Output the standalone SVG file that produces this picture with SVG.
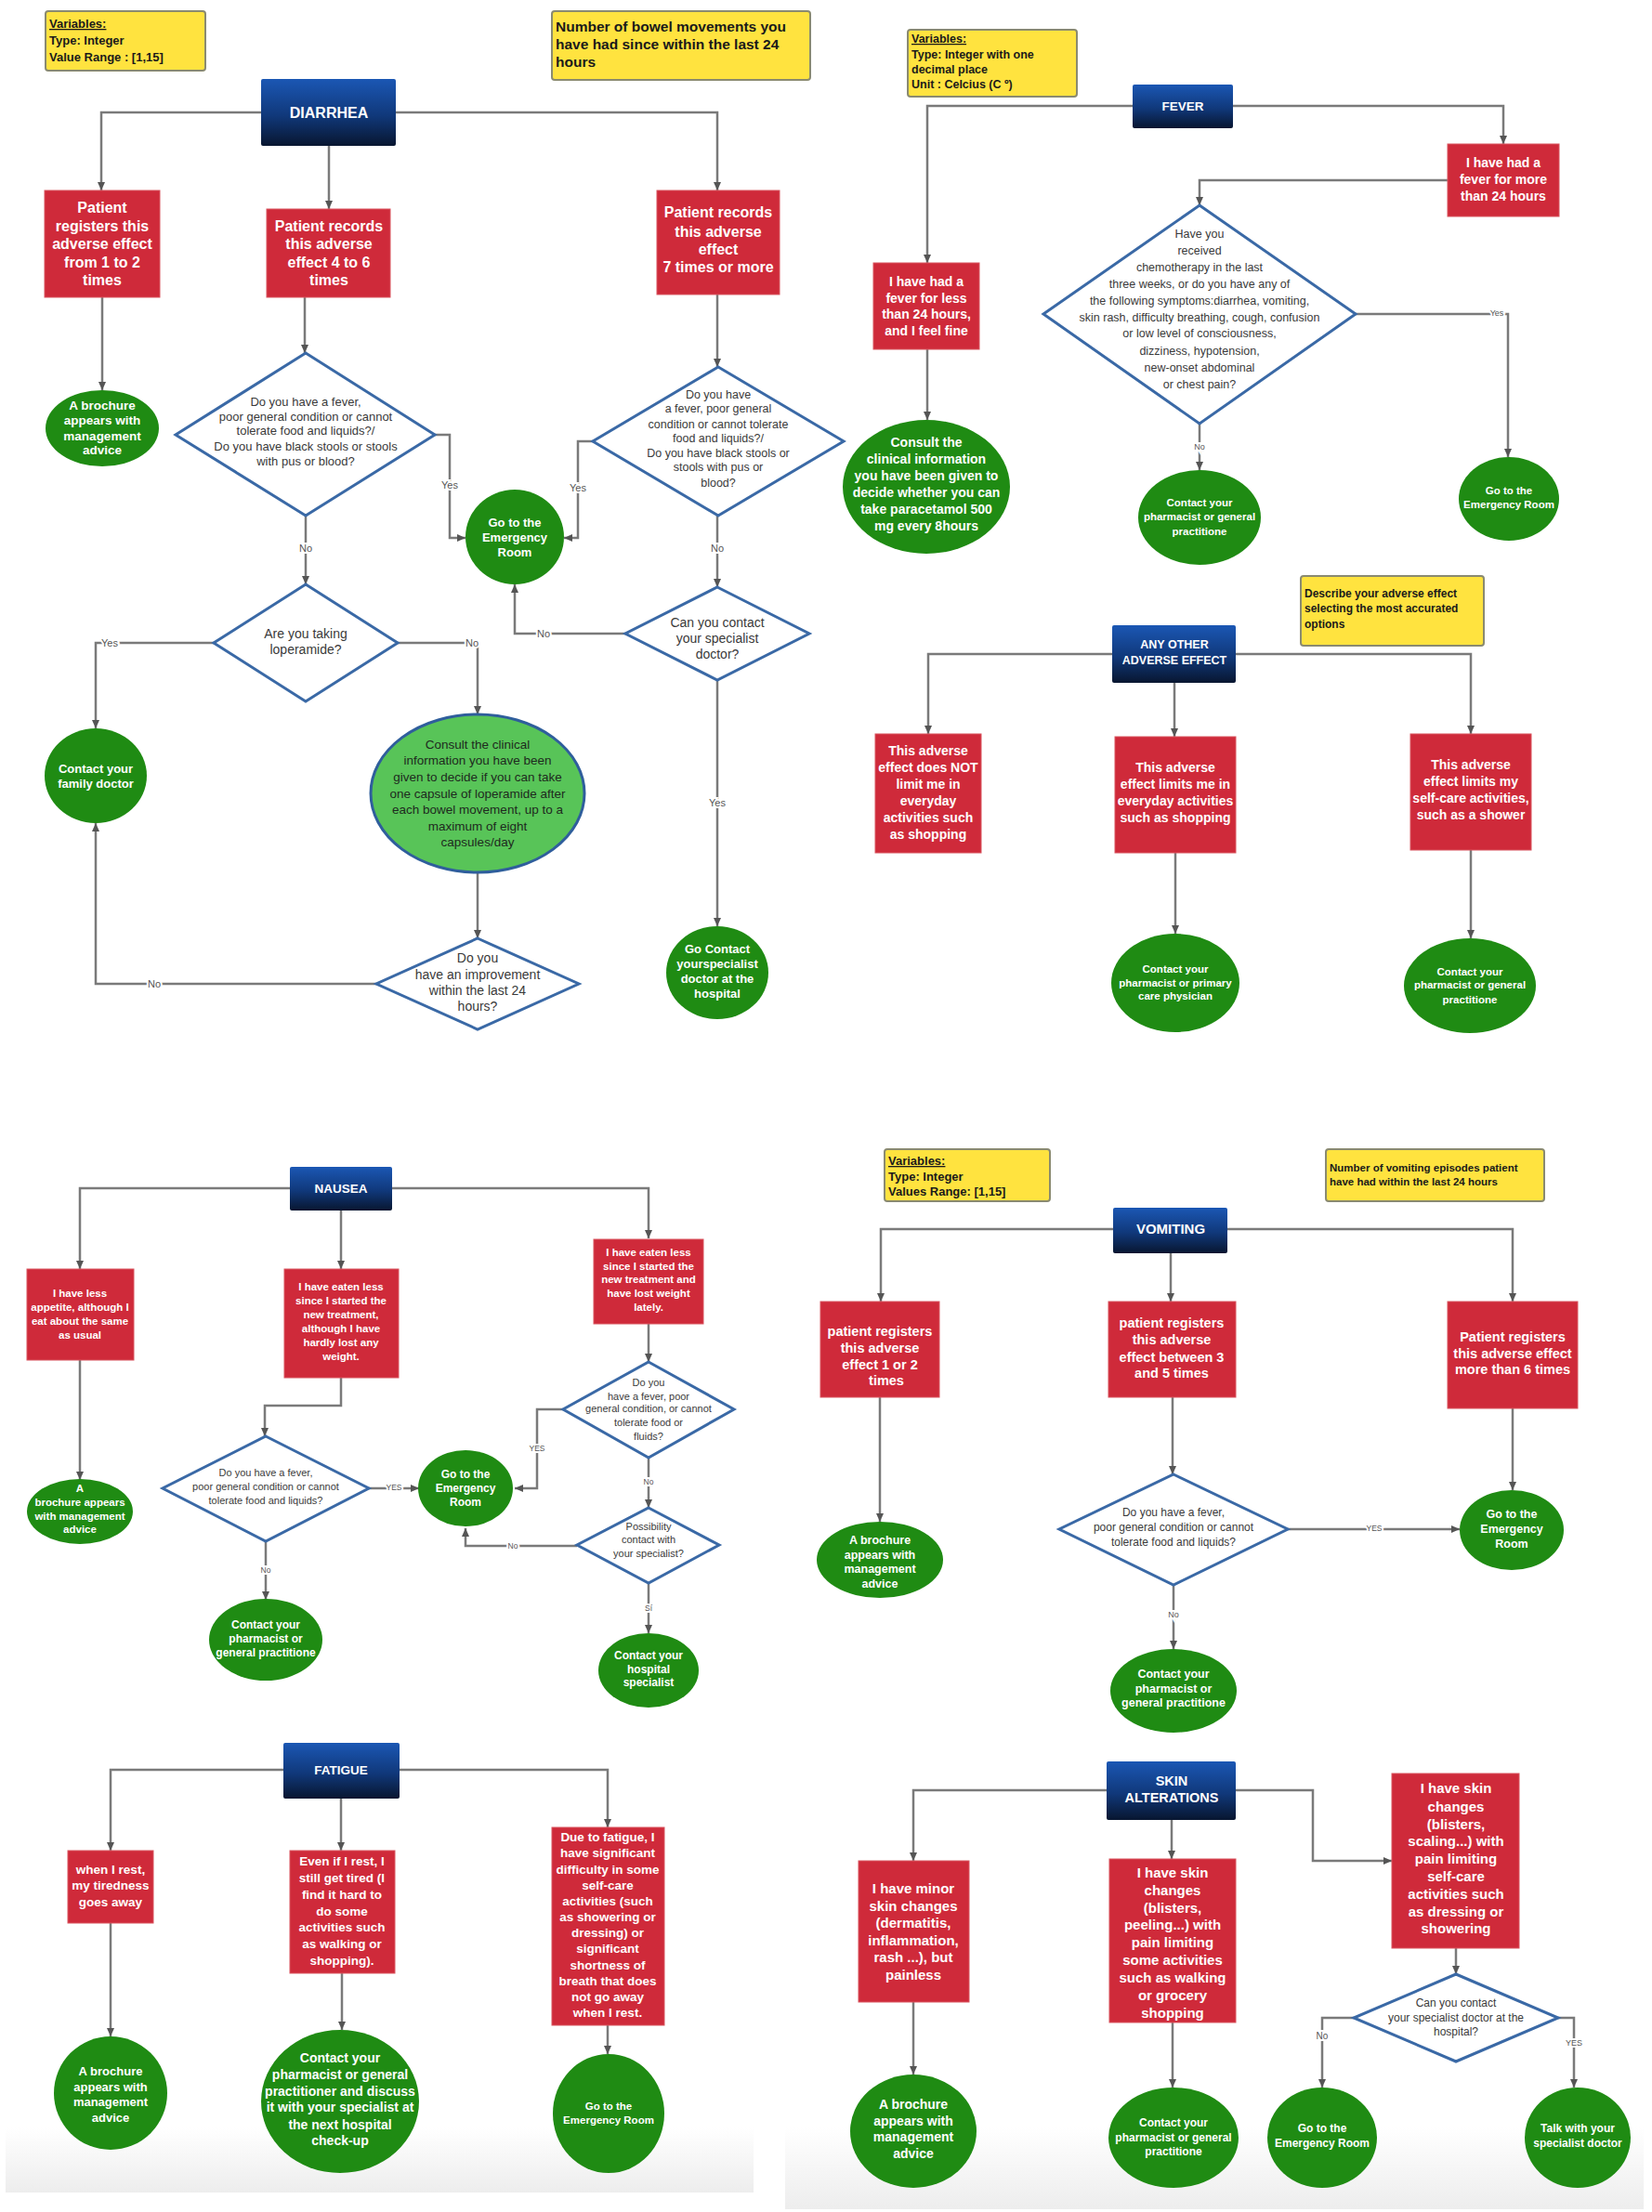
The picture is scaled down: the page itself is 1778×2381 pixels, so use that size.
<svg xmlns="http://www.w3.org/2000/svg" width="1778" height="2381" viewBox="0 0 1778 2381">
<defs>
<linearGradient id="hg" x1="0" y1="0" x2="0" y2="1">
<stop offset="0" stop-color="#1b57b4"/>
<stop offset="0.55" stop-color="#10387a"/>
<stop offset="1" stop-color="#081630"/>
</linearGradient>
<linearGradient id="bg" x1="0" y1="0" x2="0" y2="1">
<stop offset="0" stop-color="#ffffff"/>
<stop offset="1" stop-color="#ededed"/>
</linearGradient>
<marker id="ar" markerWidth="9" markerHeight="8" refX="9" refY="4" orient="auto" markerUnits="userSpaceOnUse">
<path d="M0,0 L9,4 L0,8 z" fill="#555"/>
</marker>
<style>
.r{fill:#cf2a3a;stroke:#d9545f;stroke-width:1}
.g{fill:#1f8b13}
.gl{fill:#58c458;stroke:#2f5e9c;stroke-width:3}
.d{fill:#fff;stroke:#3a69a6;stroke-width:3}
.y{fill:#ffe33f;stroke:#8a8a70;stroke-width:2}
.h{fill:url(#hg)}
.c{fill:none;stroke:#7a7a7a;stroke-width:2.5;marker-end:url(#ar)}
.cn{fill:none;stroke:#7a7a7a;stroke-width:2.5}
text{font-family:"Liberation Sans",Arial,sans-serif}
.tw{fill:#fff;font-weight:bold;text-anchor:middle}
.td{fill:#3a3a3a;text-anchor:middle}
.tk{fill:#1e2a1e;text-anchor:middle}
.ty{fill:#1a1a1a;font-weight:bold}
.lb{fill:#555;text-anchor:middle;stroke:#fff;stroke-width:4;paint-order:stroke}
</style>
</defs>
<rect width="1778" height="2381" fill="#fff"/>
<rect x="6" y="2290" width="805" height="70" fill="url(#bg)"/>
<rect x="845" y="2290" width="924" height="88" fill="url(#bg)"/>

<g id="connectors">
<!-- Diarrhea -->
<polyline class="c" points="281,121 109,121 109,205"/>
<polyline class="c" points="354,157 354,225"/>
<polyline class="c" points="426,121 772,121 772,205"/>
<polyline class="c" points="110,320 110,420"/>
<polyline class="c" points="328,320 328,380"/>
<polyline class="c" points="468,468 484,468 484,579 501,579"/>
<polyline class="c" points="772,317 772,395"/>
<polyline class="c" points="638,475 622,475 622,579 607,579"/>
<polyline class="c" points="329,555 329,629"/>
<polyline class="c" points="230,692 103,692 103,784"/>
<polyline class="c" points="428,692 514,692 514,769"/>
<polyline class="c" points="514,939 514,1010"/>
<polyline class="c" points="405,1059 103,1059 103,886"/>
<polyline class="c" points="772,555 772,632"/>
<polyline class="c" points="673,682 554,682 554,629"/>
<polyline class="c" points="772,732 772,997"/>
<!-- Fever -->
<polyline class="c" points="1219,114 998,114 998,283"/>
<polyline class="c" points="1327,114 1618,114 1618,155"/>
<polyline class="c" points="1558,194 1291,194 1291,221"/>
<polyline class="c" points="1459,338 1623,338 1623,492"/>
<polyline class="c" points="1291,456 1291,506"/>
<polyline class="c" points="998,376 998,452"/>
<!-- Any other -->
<polyline class="c" points="1197,704 999,704 999,790"/>
<polyline class="c" points="1264,735 1264,793"/>
<polyline class="c" points="1330,704 1583,704 1583,790"/>
<polyline class="c" points="1265,918 1265,1005"/>
<polyline class="c" points="1583,915 1583,1010"/>
<!-- Nausea -->
<polyline class="c" points="312,1279 86,1279 86,1366"/>
<polyline class="c" points="367,1303 367,1366"/>
<polyline class="c" points="422,1279 698,1279 698,1333"/>
<polyline class="c" points="86,1464 86,1593"/>
<polyline class="c" points="367,1483 367,1513 285,1513 285,1546"/>
<polyline class="c" points="397,1602 451,1602"/>
<polyline class="c" points="286,1659 286,1722"/>
<polyline class="c" points="698,1425 698,1466"/>
<polyline class="c" points="606,1517 578,1517 578,1602 554,1602"/>
<polyline class="c" points="698,1569 698,1623"/>
<polyline class="c" points="621,1664 501,1664 501,1645"/>
<polyline class="c" points="698,1704 698,1758"/>
<!-- Vomiting -->
<polyline class="c" points="1198,1323 948,1323 948,1401"/>
<polyline class="c" points="1260,1349 1260,1401"/>
<polyline class="c" points="1321,1323 1628,1323 1628,1401"/>
<polyline class="c" points="947,1504 947,1638"/>
<polyline class="c" points="1262,1504 1262,1587"/>
<polyline class="c" points="1628,1516 1628,1604"/>
<polyline class="c" points="1386,1646 1571,1646"/>
<polyline class="c" points="1263,1706 1263,1775"/>
<!-- Fatigue -->
<polyline class="c" points="305,1905 119,1905 119,1992"/>
<polyline class="c" points="367,1936 367,1992"/>
<polyline class="c" points="430,1905 654,1905 654,1967"/>
<polyline class="c" points="119,2070 119,2192"/>
<polyline class="c" points="368,2124 368,2185"/>
<polyline class="c" points="654,2180 654,2211"/>
<!-- Skin -->
<polyline class="c" points="1191,1927 983,1927 983,2003"/>
<polyline class="c" points="1261,1959 1261,2001"/>
<polyline class="c" points="1330,1927 1413,1927 1413,2003 1498,2003"/>
<polyline class="c" points="983,2155 983,2233"/>
<polyline class="c" points="1262,2177 1262,2247"/>
<polyline class="c" points="1567,2097 1567,2125"/>
<polyline class="c" points="1457,2172 1423,2172 1423,2247"/>
<polyline class="c" points="1677,2172 1694,2172 1694,2247"/>
</g>

<g id="labels">
<text class="lb" font-size="11" x="484" y="526">Yes</text>
<text class="lb" font-size="11" x="622" y="529">Yes</text>
<text class="lb" font-size="11" x="329" y="594">No</text>
<text class="lb" font-size="11" x="118" y="696">Yes</text>
<text class="lb" font-size="11" x="508" y="696">No</text>
<text class="lb" font-size="11" x="166" y="1063">No</text>
<text class="lb" font-size="11" x="772" y="594">No</text>
<text class="lb" font-size="11" x="585" y="686">No</text>
<text class="lb" font-size="11" x="772" y="868">Yes</text>
<text class="lb" font-size="9" x="1611" y="340">Yes</text>
<text class="lb" font-size="9" x="1291" y="484">No</text>
<text class="lb" font-size="8.5" x="424" y="1604">YES</text>
<text class="lb" font-size="8.5" x="578" y="1562">YES</text>
<text class="lb" font-size="8.5" x="286" y="1693">No</text>
<text class="lb" font-size="8.5" x="698" y="1598">No</text>
<text class="lb" font-size="8.5" x="552" y="1667">No</text>
<text class="lb" font-size="8.5" x="698" y="1734">Sí</text>
<text class="lb" font-size="8.5" x="1479" y="1648">YES</text>
<text class="lb" font-size="9" x="1263" y="1741">No</text>
<text class="lb" font-size="10" x="1423" y="2195">No</text>
<text class="lb" font-size="9" x="1694" y="2202">YES</text>
</g>

<!-- ===== DIARRHEA ===== -->
<g id="diar-var"><rect class="y" x="49" y="12" width="172" height="64" rx="3"/>
<text class="ty" font-size="13"><tspan x="53" y="30" text-decoration="underline">Variables:</tspan><tspan x="53" y="48">Type: Integer</tspan><tspan x="53" y="66">Value Range : [1,15]</tspan></text></g>
<g id="diar-note"><rect class="y" x="594" y="12" width="278" height="74" rx="3"/>
<text class="ty" font-size="15.5"><tspan x="598" y="34">Number of bowel movements you</tspan><tspan x="598" y="53">have had since within the last 24</tspan><tspan x="598" y="72">hours</tspan></text></g>
<g id="diarrhea"><rect class="h" x="281" y="85" width="145" height="72" rx="2"/>
<text class="tw" font-size="16" x="354" y="127">DIARRHEA</text></g>
<g id="diar-r1"><rect class="r" x="48" y="205" width="124" height="115"/>
<text class="tw" font-size="16"><tspan x="110" y="229">Patient</tspan><tspan x="110" y="249">registers this</tspan><tspan x="110" y="268">adverse effect</tspan><tspan x="110" y="288">from 1 to 2</tspan><tspan x="110" y="307">times</tspan></text></g>
<g id="diar-r2"><rect class="r" x="287" y="225" width="133" height="95"/>
<text class="tw" font-size="16"><tspan x="354" y="249">Patient records</tspan><tspan x="354" y="268">this adverse</tspan><tspan x="354" y="288">effect 4 to 6</tspan><tspan x="354" y="307">times</tspan></text></g>
<g id="diar-r3"><rect class="r" x="707" y="205" width="132" height="112"/>
<text class="tw" font-size="16"><tspan x="773" y="234">Patient records</tspan><tspan x="773" y="255">this adverse</tspan><tspan x="773" y="274">effect</tspan><tspan x="773" y="293">7 times or more</tspan></text></g>
<g id="diar-brochure"><ellipse class="g" cx="110" cy="461" rx="61" ry="41"/>
<text class="tw" font-size="13.5"><tspan x="110" y="441">A brochure</tspan><tspan x="110" y="457">appears with</tspan><tspan x="110" y="474">management</tspan><tspan x="110" y="489">advice</tspan></text></g>
<g id="diar-q1"><polygon class="d" points="329,380 468,468 329,555 189,468"/>
<text class="td" font-size="13"><tspan x="329" y="437">Do you have a fever,</tspan><tspan x="329" y="453">poor general condition or cannot</tspan><tspan x="329" y="468">tolerate food and liquids?/</tspan><tspan x="329" y="485">Do you have black stools or stools</tspan><tspan x="329" y="501">with pus or blood?</tspan></text></g>
<g id="diar-q2"><polygon class="d" points="773,395 908,475 773,555 638,475"/>
<text class="td" font-size="12.5"><tspan x="773" y="429">Do you have</tspan><tspan x="773" y="444">a fever, poor general</tspan><tspan x="773" y="461">condition or cannot tolerate</tspan><tspan x="773" y="476">food and liquids?/</tspan><tspan x="773" y="492">Do you have black stools or</tspan><tspan x="773" y="507">stools with pus or</tspan><tspan x="773" y="524">blood?</tspan></text></g>
<g id="diar-er"><ellipse class="g" cx="554" cy="578" rx="53" ry="51"/>
<text class="tw" font-size="13"><tspan x="554" y="567">Go to the</tspan><tspan x="554" y="583">Emergency</tspan><tspan x="554" y="599">Room</tspan></text></g>
<g id="diar-q3"><polygon class="d" points="329,629 428,692 329,755 230,692"/>
<text class="td" font-size="14"><tspan x="329" y="687">Are you taking</tspan><tspan x="329" y="704">loperamide?</tspan></text></g>
<g id="diar-family"><ellipse class="g" cx="103" cy="835" rx="55" ry="51"/>
<text class="tw" font-size="13"><tspan x="103" y="832">Contact your</tspan><tspan x="103" y="848">family doctor</tspan></text></g>
<g id="diar-consult"><ellipse class="gl" cx="514" cy="854" rx="115" ry="85"/>
<text class="tk" font-size="13.5"><tspan x="514" y="806">Consult the clinical</tspan><tspan x="514" y="823">information you have been</tspan><tspan x="514" y="841">given to decide if you can take</tspan><tspan x="514" y="859">one capsule of loperamide after</tspan><tspan x="514" y="876">each bowel movement, up to a</tspan><tspan x="514" y="894">maximum of eight</tspan><tspan x="514" y="911">capsules/day</tspan></text></g>
<g id="diar-q4"><polygon class="d" points="514,1010 623,1059 514,1108 405,1059"/>
<text class="td" font-size="14"><tspan x="514" y="1036">Do you</tspan><tspan x="514" y="1054">have an improvement</tspan><tspan x="514" y="1071">within the last 24</tspan><tspan x="514" y="1088">hours?</tspan></text></g>
<g id="diar-q5"><polygon class="d" points="772,632 871,682 772,732 673,682"/>
<text class="td" font-size="14"><tspan x="772" y="675">Can you contact</tspan><tspan x="772" y="692">your specialist</tspan><tspan x="772" y="709">doctor?</tspan></text></g>
<g id="diar-specialist"><ellipse class="g" cx="772" cy="1047" rx="55" ry="50"/>
<text class="tw" font-size="13"><tspan x="772" y="1026">Go Contact</tspan><tspan x="772" y="1042">yourspecialist</tspan><tspan x="772" y="1058">doctor at the</tspan><tspan x="772" y="1074">hospital</tspan></text></g>

<!-- ===== FEVER ===== -->
<g id="fever-var"><rect class="y" x="977" y="32" width="182" height="72" rx="3"/>
<text class="ty" font-size="12.5"><tspan x="981" y="46" text-decoration="underline">Variables:</tspan><tspan x="981" y="63">Type: Integer with one</tspan><tspan x="981" y="79">decimal place</tspan><tspan x="981" y="95">Unit : Celcius (C º)</tspan></text></g>
<g id="fever"><rect class="h" x="1219" y="91" width="108" height="47" rx="2"/>
<text class="tw" font-size="13.5" x="1273" y="119">FEVER</text></g>
<g id="fever-more"><rect class="r" x="1558" y="155" width="120" height="78"/>
<text class="tw" font-size="14"><tspan x="1618" y="180">I have had a</tspan><tspan x="1618" y="198">fever for more</tspan><tspan x="1618" y="216">than 24 hours</tspan></text></g>
<g id="fever-less"><rect class="r" x="940" y="283" width="114" height="93"/>
<text class="tw" font-size="14"><tspan x="997" y="308">I have had a</tspan><tspan x="997" y="326">fever for less</tspan><tspan x="997" y="343">than 24 hours,</tspan><tspan x="997" y="361">and I feel fine</tspan></text></g>
<g id="fever-q"><polygon class="d" points="1291,221 1459,338 1291,456 1123,338"/>
<text class="td" font-size="12.5"><tspan x="1291" y="256">Have you</tspan><tspan x="1291" y="274">received</tspan><tspan x="1291" y="292">chemotherapy in the last</tspan><tspan x="1291" y="310">three weeks, or do you have any of</tspan><tspan x="1291" y="328">the following symptoms:diarrhea, vomiting,</tspan><tspan x="1291" y="346">skin rash, difficulty breathing, cough, confusion</tspan><tspan x="1291" y="363">or low level of consciousness,</tspan><tspan x="1291" y="382">dizziness, hypotension,</tspan><tspan x="1291" y="400">new-onset abdominal</tspan><tspan x="1291" y="418">or chest pain?</tspan></text></g>
<g id="fever-consult"><ellipse class="g" cx="997" cy="524" rx="90" ry="72"/>
<text class="tw" font-size="14"><tspan x="997" y="481">Consult the</tspan><tspan x="997" y="499">clinical information</tspan><tspan x="997" y="517">you have been given to</tspan><tspan x="997" y="535">decide whether you can</tspan><tspan x="997" y="553">take paracetamol 500</tspan><tspan x="997" y="571">mg every 8hours</tspan></text></g>
<g id="fever-pharm"><ellipse class="g" cx="1291" cy="557" rx="66" ry="51"/>
<text class="tw" font-size="11.5"><tspan x="1291" y="545">Contact your</tspan><tspan x="1291" y="560">pharmacist or general</tspan><tspan x="1291" y="576">practitione</tspan></text></g>
<g id="fever-er"><ellipse class="g" cx="1624" cy="537" rx="54" ry="45"/>
<text class="tw" font-size="11.5"><tspan x="1624" y="532">Go to the</tspan><tspan x="1624" y="547">Emergency Room</tspan></text></g>

<!-- ===== ANY OTHER ===== -->
<g id="other-note"><rect class="y" x="1400" y="620" width="197" height="75" rx="3"/>
<text class="ty" font-size="12"><tspan x="1404" y="643">Describe your adverse effect</tspan><tspan x="1404" y="659">selecting the most accurated</tspan><tspan x="1404" y="676">options</tspan></text></g>
<g id="other"><rect class="h" x="1197" y="673" width="133" height="62" rx="2"/>
<text class="tw" font-size="12.5"><tspan x="1264" y="698">ANY OTHER</tspan><tspan x="1264" y="715">ADVERSE EFFECT</tspan></text></g>
<g id="other-r1"><rect class="r" x="942" y="790" width="114" height="128"/>
<text class="tw" font-size="14"><tspan x="999" y="813">This adverse</tspan><tspan x="999" y="831">effect does NOT</tspan><tspan x="999" y="849">limit me in</tspan><tspan x="999" y="867">everyday</tspan><tspan x="999" y="885">activities such</tspan><tspan x="999" y="903">as shopping</tspan></text></g>
<g id="other-r2"><rect class="r" x="1200" y="793" width="130" height="125"/>
<text class="tw" font-size="14"><tspan x="1265" y="831">This adverse</tspan><tspan x="1265" y="849">effect limits me in</tspan><tspan x="1265" y="867">everyday activities</tspan><tspan x="1265" y="885">such as shopping</tspan></text></g>
<g id="other-r3"><rect class="r" x="1518" y="790" width="130" height="125"/>
<text class="tw" font-size="14"><tspan x="1583" y="828">This adverse</tspan><tspan x="1583" y="846">effect limits my</tspan><tspan x="1583" y="864">self-care activities,</tspan><tspan x="1583" y="882">such as a shower</tspan></text></g>
<g id="other-c2"><ellipse class="g" cx="1265" cy="1058" rx="69" ry="53"/>
<text class="tw" font-size="11.5"><tspan x="1265" y="1047">Contact your</tspan><tspan x="1265" y="1062">pharmacist or primary</tspan><tspan x="1265" y="1076">care physician</tspan></text></g>
<g id="other-c3"><ellipse class="g" cx="1582" cy="1061" rx="71" ry="51"/>
<text class="tw" font-size="11.5"><tspan x="1582" y="1050">Contact your</tspan><tspan x="1582" y="1064">pharmacist or general</tspan><tspan x="1582" y="1080">practitione</tspan></text></g>

<!-- ===== NAUSEA ===== -->
<g id="nausea"><rect class="h" x="312" y="1256" width="110" height="47" rx="2"/>
<text class="tw" font-size="13.5" x="367" y="1284">NAUSEA</text></g>
<g id="nau-r1"><rect class="r" x="29" y="1366" width="115" height="98"/>
<text class="tw" font-size="11.5"><tspan x="86" y="1396">I have less</tspan><tspan x="86" y="1411">appetite, although I</tspan><tspan x="86" y="1426">eat about the same</tspan><tspan x="86" y="1441">as usual</tspan></text></g>
<g id="nau-r2"><rect class="r" x="306" y="1366" width="123" height="117"/>
<text class="tw" font-size="11.5"><tspan x="367" y="1389">I have eaten less</tspan><tspan x="367" y="1404">since I started the</tspan><tspan x="367" y="1419">new treatment,</tspan><tspan x="367" y="1434">although I have</tspan><tspan x="367" y="1449">hardly lost any</tspan><tspan x="367" y="1464">weight.</tspan></text></g>
<g id="nau-r3"><rect class="r" x="639" y="1334" width="118" height="91"/>
<text class="tw" font-size="11.5"><tspan x="698" y="1352">I have eaten less</tspan><tspan x="698" y="1367">since I started the</tspan><tspan x="698" y="1381">new treatment and</tspan><tspan x="698" y="1396">have lost weight</tspan><tspan x="698" y="1411">lately.</tspan></text></g>
<g id="nau-brochure"><ellipse class="g" cx="86" cy="1627" rx="57" ry="35"/>
<text class="tw" font-size="11.5"><tspan x="86" y="1606">A</tspan><tspan x="86" y="1621">brochure appears</tspan><tspan x="86" y="1636">with management</tspan><tspan x="86" y="1650">advice</tspan></text></g>
<g id="nau-q1"><polygon class="d" points="286,1546 397,1602 286,1659 175,1602"/>
<text class="td" font-size="11"><tspan x="286" y="1589">Do you have a fever,</tspan><tspan x="286" y="1604">poor general condition or cannot</tspan><tspan x="286" y="1619">tolerate food and liquids?</tspan></text></g>
<g id="nau-er"><ellipse class="g" cx="501" cy="1602" rx="51" ry="41"/>
<text class="tw" font-size="12"><tspan x="501" y="1591">Go to the</tspan><tspan x="501" y="1606">Emergency</tspan><tspan x="501" y="1621">Room</tspan></text></g>
<g id="nau-pharm"><ellipse class="g" cx="286" cy="1765" rx="61" ry="44"/>
<text class="tw" font-size="12"><tspan x="286" y="1753">Contact your</tspan><tspan x="286" y="1768">pharmacist or</tspan><tspan x="286" y="1783">general practitione</tspan></text></g>
<g id="nau-q2"><polygon class="d" points="698,1466 790,1517 698,1569 606,1517"/>
<text class="td" font-size="11"><tspan x="698" y="1492">Do you</tspan><tspan x="698" y="1507">have a fever, poor</tspan><tspan x="698" y="1520">general condition, or cannot</tspan><tspan x="698" y="1535">tolerate food or</tspan><tspan x="698" y="1550">fluids?</tspan></text></g>
<g id="nau-q3"><polygon class="d" points="698,1623 774,1663 698,1704 621,1663"/>
<text class="td" font-size="11"><tspan x="698" y="1647">Possibility</tspan><tspan x="698" y="1661">contact with</tspan><tspan x="698" y="1676">your specialist?</tspan></text></g>
<g id="nau-hosp"><ellipse class="g" cx="698" cy="1798" rx="54" ry="40"/>
<text class="tw" font-size="12"><tspan x="698" y="1786">Contact your</tspan><tspan x="698" y="1801">hospital</tspan><tspan x="698" y="1815">specialist</tspan></text></g>

<!-- ===== VOMITING ===== -->
<g id="vom-var"><rect class="y" x="952" y="1237" width="178" height="56" rx="3"/>
<text class="ty" font-size="13"><tspan x="956" y="1254" text-decoration="underline">Variables:</tspan><tspan x="956" y="1271">Type: Integer</tspan><tspan x="956" y="1287">Values Range: [1,15]</tspan></text></g>
<g id="vom-note"><rect class="y" x="1427" y="1237" width="235" height="56" rx="3"/>
<text class="ty" font-size="11.5"><tspan x="1431" y="1261">Number of vomiting episodes patient</tspan><tspan x="1431" y="1276">have had within the last 24 hours</tspan></text></g>
<g id="vomiting"><rect class="h" x="1198" y="1300" width="123" height="49" rx="2"/>
<text class="tw" font-size="15" x="1260" y="1328">VOMITING</text></g>
<g id="vom-r1"><rect class="r" x="883" y="1401" width="128" height="103"/>
<text class="tw" font-size="14.5"><tspan x="947" y="1438">patient registers</tspan><tspan x="947" y="1456">this adverse</tspan><tspan x="947" y="1474">effect 1 or 2</tspan><tspan x="954" y="1491">times</tspan></text></g>
<g id="vom-r2"><rect class="r" x="1193" y="1401" width="137" height="103"/>
<text class="tw" font-size="14.5"><tspan x="1261" y="1429">patient registers</tspan><tspan x="1261" y="1447">this adverse</tspan><tspan x="1261" y="1466">effect between 3</tspan><tspan x="1261" y="1483">and 5 times</tspan></text></g>
<g id="vom-r3"><rect class="r" x="1558" y="1401" width="140" height="115"/>
<text class="tw" font-size="14.5"><tspan x="1628" y="1444">Patient registers</tspan><tspan x="1628" y="1462">this adverse effect</tspan><tspan x="1628" y="1479">more than 6 times</tspan></text></g>
<g id="vom-brochure"><ellipse class="g" cx="947" cy="1679" rx="68" ry="41"/>
<text class="tw" font-size="12.5"><tspan x="947" y="1662">A brochure</tspan><tspan x="947" y="1678">appears with</tspan><tspan x="947" y="1693">management</tspan><tspan x="947" y="1709">advice</tspan></text></g>
<g id="vom-q"><polygon class="d" points="1263,1587 1386,1646 1263,1706 1140,1646"/>
<text class="td" font-size="12"><tspan x="1263" y="1632">Do you have a fever,</tspan><tspan x="1263" y="1648">poor general condition or cannot</tspan><tspan x="1263" y="1664">tolerate food and liquids?</tspan></text></g>
<g id="vom-er"><ellipse class="g" cx="1627" cy="1647" rx="56" ry="43"/>
<text class="tw" font-size="12.5"><tspan x="1627" y="1634">Go to the</tspan><tspan x="1627" y="1650">Emergency</tspan><tspan x="1627" y="1666">Room</tspan></text></g>
<g id="vom-pharm"><ellipse class="g" cx="1263" cy="1820" rx="68" ry="45"/>
<text class="tw" font-size="12.5"><tspan x="1263" y="1806">Contact your</tspan><tspan x="1263" y="1822">pharmacist or</tspan><tspan x="1263" y="1837">general practitione</tspan></text></g>

<!-- ===== FATIGUE ===== -->
<g id="fatigue"><rect class="h" x="305" y="1876" width="125" height="60" rx="2"/>
<text class="tw" font-size="13.5" x="367" y="1910">FATIGUE</text></g>
<g id="fat-r1"><rect class="r" x="73" y="1992" width="92" height="78"/>
<text class="tw" font-size="13.5"><tspan x="119" y="2017">when I rest,</tspan><tspan x="119" y="2034">my tiredness</tspan><tspan x="119" y="2052">goes away</tspan></text></g>
<g id="fat-r2"><rect class="r" x="312" y="1992" width="113" height="132"/>
<text class="tw" font-size="13.5"><tspan x="368" y="2008">Even if I rest, I</tspan><tspan x="368" y="2026">still get tired (I</tspan><tspan x="368" y="2044">find it hard to</tspan><tspan x="368" y="2062">do some</tspan><tspan x="368" y="2079">activities such</tspan><tspan x="368" y="2097">as walking or</tspan><tspan x="368" y="2115">shopping).</tspan></text></g>
<g id="fat-r3"><rect class="r" x="594" y="1967" width="121" height="213"/>
<text class="tw" font-size="13.5"><tspan x="654" y="1982">Due to fatigue, I</tspan><tspan x="654" y="1999">have significant</tspan><tspan x="654" y="2017">difficulty in some</tspan><tspan x="654" y="2034">self-care</tspan><tspan x="654" y="2051">activities (such</tspan><tspan x="654" y="2068">as showering or</tspan><tspan x="654" y="2085">dressing) or</tspan><tspan x="654" y="2102">significant</tspan><tspan x="654" y="2120">shortness of</tspan><tspan x="654" y="2137">breath that does</tspan><tspan x="654" y="2154">not go away</tspan><tspan x="654" y="2171">when I rest.</tspan></text></g>
<g id="fat-c1"><ellipse class="g" cx="119" cy="2253" rx="61" ry="61"/>
<text class="tw" font-size="13"><tspan x="119" y="2234">A brochure</tspan><tspan x="119" y="2251">appears with</tspan><tspan x="119" y="2267">management</tspan><tspan x="119" y="2284">advice</tspan></text></g>
<g id="fat-c2"><ellipse class="g" cx="366" cy="2262" rx="85" ry="77"/>
<text class="tw" font-size="14"><tspan x="366" y="2220">Contact your</tspan><tspan x="366" y="2238">pharmacist or general</tspan><tspan x="366" y="2256">practitioner and discuss</tspan><tspan x="366" y="2273">it with your specialist at</tspan><tspan x="366" y="2292">the next hospital</tspan><tspan x="366" y="2309">check-up</tspan></text></g>
<g id="fat-c3"><ellipse class="g" cx="655" cy="2275" rx="60" ry="64"/>
<text class="tw" font-size="11.5"><tspan x="655" y="2271">Go to the</tspan><tspan x="655" y="2286">Emergency Room</tspan></text></g>

<!-- ===== SKIN ===== -->
<g id="skin"><rect class="h" x="1191" y="1896" width="139" height="63" rx="2"/>
<text class="tw" font-size="14.5"><tspan x="1261" y="1922">SKIN</tspan><tspan x="1261" y="1940">ALTERATIONS</tspan></text></g>
<g id="skin-r1"><rect class="r" x="924" y="2003" width="119" height="152"/>
<text class="tw" font-size="15"><tspan x="983" y="2038">I have minor</tspan><tspan x="983" y="2057">skin changes</tspan><tspan x="983" y="2075">(dermatitis,</tspan><tspan x="983" y="2094">inflammation,</tspan><tspan x="983" y="2112">rash ...), but</tspan><tspan x="983" y="2131">painless</tspan></text></g>
<g id="skin-r2"><rect class="r" x="1194" y="2001" width="136" height="176"/>
<text class="tw" font-size="15"><tspan x="1262" y="2021">I have skin</tspan><tspan x="1262" y="2040">changes</tspan><tspan x="1262" y="2059">(blisters,</tspan><tspan x="1262" y="2077">peeling...) with</tspan><tspan x="1262" y="2096">pain limiting</tspan><tspan x="1262" y="2115">some activities</tspan><tspan x="1262" y="2134">such as walking</tspan><tspan x="1262" y="2153">or grocery</tspan><tspan x="1262" y="2172">shopping</tspan></text></g>
<g id="skin-r3"><rect class="r" x="1498" y="1909" width="137" height="188"/>
<text class="tw" font-size="15"><tspan x="1567" y="1930">I have skin</tspan><tspan x="1567" y="1950">changes</tspan><tspan x="1567" y="1969">(blisters,</tspan><tspan x="1567" y="1987">scaling...) with</tspan><tspan x="1567" y="2006">pain limiting</tspan><tspan x="1567" y="2025">self-care</tspan><tspan x="1567" y="2044">activities such</tspan><tspan x="1567" y="2063">as dressing or</tspan><tspan x="1567" y="2081">showering</tspan></text></g>
<g id="skin-q"><polygon class="d" points="1567,2125 1677,2172 1567,2219 1457,2172"/>
<text class="td" font-size="12"><tspan x="1567" y="2160">Can you contact</tspan><tspan x="1567" y="2176">your specialist doctor at the</tspan><tspan x="1567" y="2191">hospital?</tspan></text></g>
<g id="skin-c1"><ellipse class="g" cx="983" cy="2294" rx="68" ry="61"/>
<text class="tw" font-size="14"><tspan x="983" y="2270">A brochure</tspan><tspan x="983" y="2288">appears with</tspan><tspan x="983" y="2305">management</tspan><tspan x="983" y="2323">advice</tspan></text></g>
<g id="skin-c2"><ellipse class="g" cx="1263" cy="2301" rx="70" ry="54"/>
<text class="tw" font-size="12"><tspan x="1263" y="2289">Contact your</tspan><tspan x="1263" y="2305">pharmacist or general</tspan><tspan x="1263" y="2320">practitione</tspan></text></g>
<g id="skin-c3"><ellipse class="g" cx="1423" cy="2301" rx="59" ry="54"/>
<text class="tw" font-size="12"><tspan x="1423" y="2295">Go to the</tspan><tspan x="1423" y="2311">Emergency Room</tspan></text></g>
<g id="skin-c4"><ellipse class="g" cx="1698" cy="2301" rx="57" ry="54"/>
<text class="tw" font-size="12"><tspan x="1698" y="2295">Talk with your</tspan><tspan x="1698" y="2311">specialist doctor</tspan></text></g>
</svg>
